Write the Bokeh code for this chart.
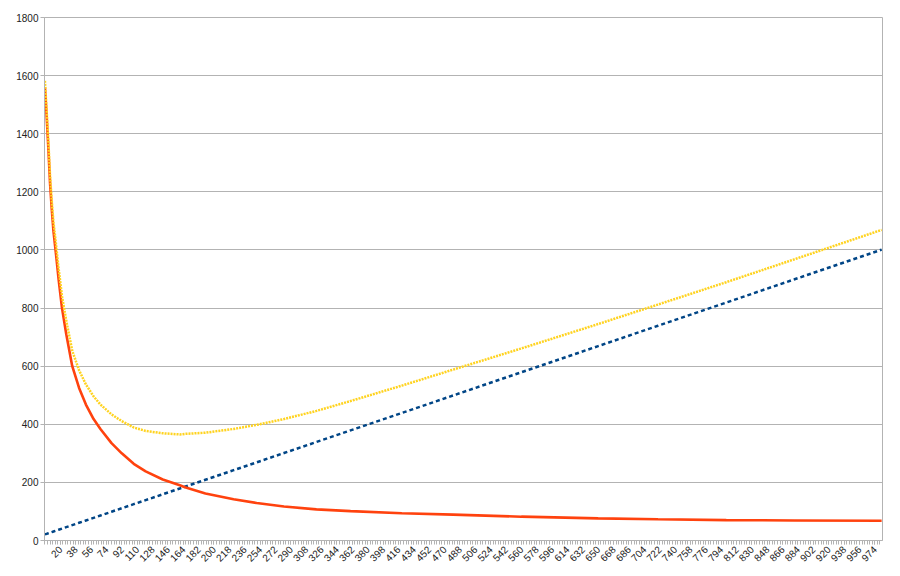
import math
from bokeh.plotting import figure
from bokeh.models import FixedTicker, Range1d, ColumnDataSource
from bokeh.embed import file_html
from bokeh.resources import INLINE

# ---- data ----
cats = [2, 4, 6, 8, 10, 12, 15, 18, 22, 27, 34, 42, 50, 59, 67, 80, 92, 106, 120,
        140, 160, 166, 190, 223, 250, 282, 320, 360, 420, 480, 560, 650, 720, 800, 880, 982]
red = [1560, 1460, 1350, 1230, 1140, 1065, 985, 900, 800, 710, 600, 525, 468, 418, 384,
       335, 300, 264, 238, 210, 190, 183, 162, 142, 129, 117, 107, 101, 94, 89, 82, 76,
       73, 70, 69, 68]
yellow = [1582, 1483, 1375, 1257, 1169, 1096, 1019, 937, 841, 756, 653, 586, 537, 496,
          468, 434, 411, 389, 377, 369, 365, 367, 371, 384, 398, 418, 446, 480, 533, 588,
          661, 745, 812, 889, 968, 1069]
blue = [21, 23, 25, 27, 29, 31, 34, 37, 41, 46, 53, 61, 69, 78, 86, 99, 111, 125, 139,
        159, 179, 185, 209, 242, 269, 301, 339, 379, 439, 499, 579, 669, 739, 819, 899, 1001]

x_labels = list(range(20, 975, 18))
x_minor = list(range(2, 983, 3))
y_ticks = list(range(0, 1801, 200))

src = ColumnDataSource(dict(x=cats, red=red, yellow=yellow, blue=blue))

p = figure(frame_width=838, frame_height=523, output_backend="svg", toolbar_location=None,
           x_range=Range1d(1.5, 983), y_range=Range1d(0, 1800),
           min_border_left=44, min_border_right=10, min_border_top=17, min_border_bottom=28,
           background_fill_color="white", border_fill_color="white")

p.outline_line_color = "#b3b3b3"
p.xgrid.visible = False
p.ygrid.grid_line_color = "#b3b3b3"
p.ygrid.grid_line_width = 1

p.yaxis.ticker = FixedTicker(ticks=y_ticks)
p.xaxis.ticker = FixedTicker(ticks=x_labels, minor_ticks=x_minor)

for ax in (p.xaxis[0], p.yaxis[0]):
    ax.axis_line_color = "#b3b3b3"
    ax.major_tick_line_color = "#b3b3b3"
    ax.minor_tick_line_color = "#b3b3b3"
    ax.major_tick_in = 0
    ax.major_tick_out = 4
    ax.minor_tick_in = 0
    ax.minor_tick_out = 4
    ax.major_label_text_font = "Liberation Sans"
    ax.major_label_text_color = "#222222"
    ax.major_label_standoff = 2

p.yaxis.minor_tick_line_color = None
p.yaxis.major_label_text_font_size = "10px"
p.xaxis.major_label_text_font_size = "10px"
p.xaxis.major_label_standoff = 3
p.xaxis.major_label_orientation = math.pi / 4

p.line("x", "blue", source=src, line_color="#004586", line_width=2.5, line_dash="4 3")
p.line("x", "red", source=src, line_color="#ff420e", line_width=2.6)
p.line("x", "yellow", source=src, line_color="#ffd320", line_width=2.5, line_dash="2 1")

open("out.html", "w").write(file_html(p, INLINE))
